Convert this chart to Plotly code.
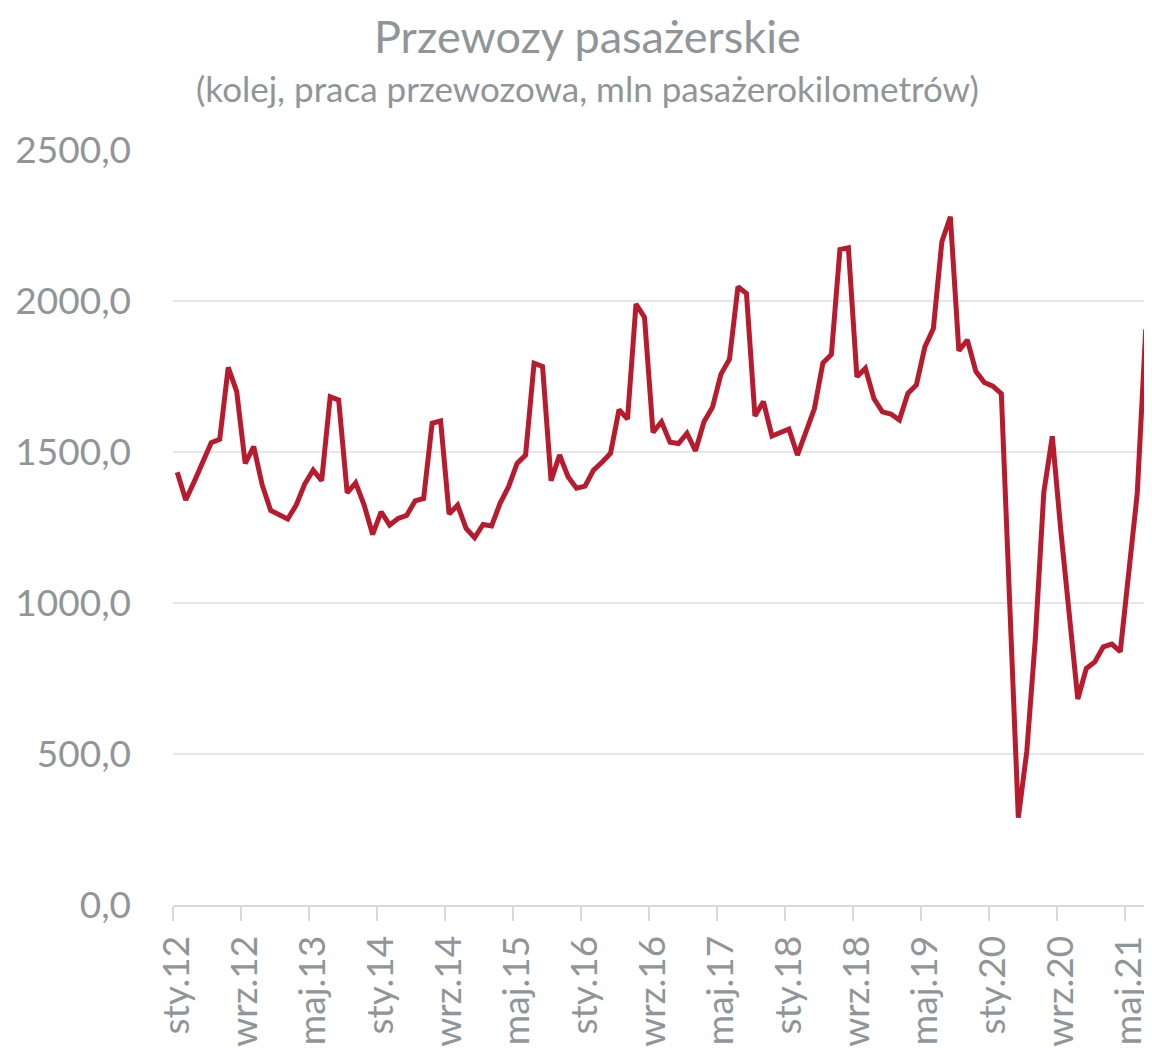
import plotly.graph_objects as go

# monthly rail passenger work, mln passenger-km, sty.12 .. lip.21
przewozy = [
    1433, 1341, 1402, 1464, 1531, 1542, 1780, 1700, 1462, 1518, 1391, 1306,
    1294, 1278, 1324, 1394, 1440, 1405, 1683, 1672, 1365, 1398, 1324, 1227,
    1302, 1258, 1280, 1290, 1338, 1346, 1595, 1603, 1295, 1324, 1247, 1216,
    1260, 1255, 1330, 1385, 1462, 1490, 1794, 1783, 1405, 1490, 1418, 1380,
    1387, 1440, 1466, 1496, 1640, 1609, 1990, 1946, 1565, 1600, 1532, 1528,
    1562, 1504, 1600, 1648, 1758, 1807, 2047, 2025, 1619, 1667, 1553, 1563,
    1576, 1490, 1568, 1644, 1795, 1823, 2170, 2176, 1749, 1777, 1677, 1633,
    1626, 1606, 1694, 1722, 1848, 1909, 2196, 2279, 1835, 1871, 1767, 1730,
    1718, 1693, 990, 289, 509, 880, 1366, 1552, 1240, 975, 682, 783,
    805, 855, 864, 839, 1120, 1363, 1906,
]
etykiety = ["sty.12", "wrz.12", "maj.13", "sty.14", "wrz.14", "maj.15", "sty.16",
            "wrz.16", "maj.17", "sty.18", "wrz.18", "maj.19", "sty.20", "wrz.20", "maj.21"]
y_ticks = [0, 500, 1000, 1500, 2000, 2500]

x = list(range(len(przewozy)))
tick_pos = [i * 8 for i in range(len(etykiety))]

GRAY = "#8F9598"
FONT = "Lato"

fig = go.Figure()
fig.add_trace(go.Scatter(x=x, y=przewozy, mode="lines",
                         line=dict(color="#B81B2D", width=5),
                         hovertemplate="%{y:.1f}<extra></extra>"))

# page body has an 8px margin, so the figure is drawn 8px in and shrunk to fit
OFF = 8
W, H = 1152 - OFF, 1048 - OFF
# plot area in window pixels: left 173, right 1150.5, top 150, bottom 905
L, R, T, B = 173 - OFF, 1150.5 - OFF, 150 - OFF, 905 - OFF
def px(xp):
    return (xp - OFF - L) / (R - L)
def py(yp):
    return (B - (yp - OFF)) / (B - T)

fig.update_layout(
    width=W, height=H,
    margin=dict(l=L, r=W - R, t=T, b=H - B, pad=0),
    plot_bgcolor="white", paper_bgcolor="white",
    showlegend=False,
    separators=", ",
    font=dict(family=FONT, color=GRAY),
    annotations=[
        dict(text="Przewozy pasażerskie", x=px(588), y=py(36), xref="paper", yref="paper",
             xanchor="center", yanchor="middle", showarrow=False,
             font=dict(family=FONT, size=45, color=GRAY)),
        dict(text="(kolej, praca przewozowa, mln pasażerokilometrów)", x=px(588), y=py(88),
             xref="paper", yref="paper", xanchor="center", yanchor="middle", showarrow=False,
             font=dict(family=FONT, size=35, color=GRAY)),
    ],
)

fig.update_xaxes(
    range=[-0.5, len(przewozy) - 0.5],
    tickmode="array", tickvals=tick_pos, ticktext=etykiety,
    tickangle=-90, ticks="", ticklabelstandoff=14,
    tickfont=dict(family=FONT, size=37, color=GRAY),
    showgrid=False, zeroline=False,
    showline=True, linecolor="#D9D9D9", linewidth=2,
    minor=dict(tickmode="array", tickvals=[p - 0.5 for p in tick_pos],
               ticks="outside", ticklen=14, tickwidth=2, tickcolor="#D9D9D9", showgrid=False),
)
fig.update_yaxes(
    range=[0, 2500],
    tickmode="array", tickvals=y_ticks, tickformat=".1f",
    tickfont=dict(family=FONT, size=37, color=GRAY),
    ticklabelstandoff=41,
    showgrid=True, gridcolor="#E6E6E6", gridwidth=2,
    zeroline=False, showline=False, ticks="",
)

fig.write_html("out.html")
